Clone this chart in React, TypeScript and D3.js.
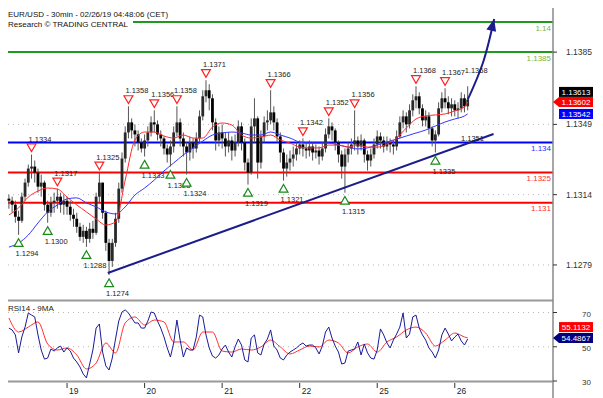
import React from "react";
import * as d3 from "d3";

// hourly bars, index 0 = Feb 18 06:00
const firstOpen = 1.1312;
const closes = [
  1.1311, 1.1309, 1.1303, 1.1301, 1.1313, 1.132, 1.1327, 1.1328, 1.1325, 1.1318,
  1.132, 1.1309, 1.1305, 1.131, 1.1311, 1.1313, 1.1309, 1.1311, 1.1308, 1.1304,
  1.1302, 1.1298, 1.1293, 1.1296, 1.1292, 1.1297, 1.1295, 1.1313, 1.132, 1.1305,
  1.129, 1.1281, 1.129, 1.1302, 1.1317, 1.1332, 1.1345, 1.135, 1.1346, 1.1344,
  1.134, 1.1337, 1.1341, 1.1345, 1.135, 1.1349, 1.1344, 1.1342, 1.1337, 1.1334,
  1.1338, 1.1345, 1.135, 1.1342, 1.1338, 1.1335, 1.134, 1.1337, 1.1342, 1.1353,
  1.1363, 1.1366, 1.1362, 1.135, 1.1341, 1.1345, 1.1342, 1.1338, 1.1341, 1.1336,
  1.134, 1.1348, 1.134, 1.133, 1.1325, 1.1348, 1.1352, 1.133, 1.1343, 1.135,
  1.1351, 1.1355, 1.135, 1.1343, 1.1335, 1.1327, 1.133, 1.1332, 1.1334, 1.1337,
  1.1339, 1.1337, 1.1336, 1.1338, 1.1335, 1.1336, 1.1333, 1.1337, 1.1344, 1.1348,
  1.1346, 1.134, 1.1334, 1.1328, 1.1334, 1.1337, 1.1339, 1.1341, 1.1338, 1.1341,
  1.1334, 1.1331, 1.1334, 1.1339, 1.1343, 1.1341, 1.1338, 1.134, 1.1339, 1.1338,
  1.1343, 1.135, 1.1353, 1.1349, 1.1356, 1.1361, 1.1363, 1.1357, 1.1351, 1.1353,
  1.1347, 1.1341, 1.1344, 1.1357, 1.1362, 1.136, 1.1357, 1.1359, 1.1356, 1.1357,
  1.1362, 1.1358, 1.13613,
];
const highs = [
  1.1314, 1.1313, 1.1311, 1.1306, 1.1315, 1.1322, 1.1329, 1.1334, 1.1331, 1.1327,
  1.1324, 1.1321, 1.1311, 1.1313, 1.1315, 1.1317, 1.1315, 1.1314, 1.1313, 1.1311,
  1.1307, 1.1305, 1.13, 1.1299, 1.1298, 1.13, 1.1301, 1.1315, 1.1325, 1.132,
  1.1306, 1.1292, 1.1292, 1.1305, 1.132, 1.1335, 1.1348, 1.1358, 1.1352, 1.1349,
  1.1346, 1.1342, 1.1344, 1.1348, 1.1353, 1.1356, 1.1351, 1.1346, 1.1343, 1.1339,
  1.1341, 1.1348, 1.1358, 1.1352, 1.1345, 1.134, 1.1343, 1.1342, 1.1345, 1.1356,
  1.1366, 1.1371, 1.1369, 1.1364, 1.1352, 1.1348, 1.1349, 1.1345, 1.1345, 1.1343,
  1.1344, 1.1351, 1.135, 1.1342, 1.1332, 1.1352, 1.1362, 1.1353, 1.1346, 1.1353,
  1.1356, 1.1366, 1.1358, 1.1352, 1.1345, 1.1337, 1.1334, 1.1336, 1.1338, 1.134,
  1.1341, 1.1342, 1.134, 1.1341, 1.134, 1.1339, 1.1338, 1.134, 1.1347, 1.1352,
  1.135, 1.1347, 1.1341, 1.1336, 1.1337, 1.134, 1.1342, 1.1356, 1.1343, 1.1344,
  1.1342, 1.1336, 1.1337, 1.1342, 1.1346, 1.1345, 1.1343, 1.1343, 1.1342, 1.1341,
  1.1346, 1.1353, 1.1356, 1.1355, 1.1359, 1.1364, 1.1368, 1.1365, 1.1359, 1.1356,
  1.1355, 1.1348, 1.1346, 1.136, 1.1365, 1.1367, 1.1363, 1.1362, 1.1361, 1.136,
  1.1365, 1.1364, 1.1368,
];
const lows = [
  1.1307, 1.1305, 1.13, 1.1294, 1.13, 1.1311, 1.1318, 1.1322, 1.132, 1.1315,
  1.1313, 1.1306, 1.13, 1.1303, 1.1305, 1.1307, 1.1305, 1.1304, 1.1304, 1.1301,
  1.1298, 1.1295, 1.1291, 1.129, 1.1288, 1.129, 1.1292, 1.1294, 1.131, 1.1302,
  1.1286, 1.1274, 1.1278, 1.1288, 1.13, 1.1315, 1.133, 1.1342, 1.1342, 1.1338,
  1.1336, 1.1335, 1.1333, 1.1338, 1.1343, 1.1345, 1.1341, 1.1338, 1.1334, 1.133,
  1.1328, 1.1335, 1.1343, 1.1338, 1.1333, 1.1324, 1.1331, 1.1332, 1.1335, 1.134,
  1.1351, 1.136, 1.1356, 1.1346, 1.1336, 1.1338, 1.1337, 1.1333, 1.1335, 1.1331,
  1.1333, 1.1338, 1.1336, 1.1326, 1.1319, 1.1324, 1.134, 1.1322, 1.1327, 1.134,
  1.1346, 1.1349, 1.1346, 1.134, 1.133, 1.1321, 1.1323, 1.1326, 1.1328, 1.1331,
  1.1334, 1.1333, 1.1332, 1.1333, 1.1331, 1.1332, 1.1329, 1.1331, 1.1335, 1.1342,
  1.1341, 1.1336, 1.133, 1.1322, 1.1315, 1.133, 1.1334, 1.1336, 1.1334, 1.1336,
  1.133, 1.1326, 1.1328, 1.1332, 1.1337, 1.1337, 1.1335, 1.1336, 1.1335, 1.1334,
  1.1336, 1.1342, 1.1347, 1.1345, 1.1347, 1.1353, 1.1357, 1.1354, 1.1348, 1.1348,
  1.1344, 1.1338, 1.1335, 1.1343, 1.1355, 1.1357, 1.1354, 1.1353, 1.1353, 1.1352,
  1.1355, 1.1355, 1.1356,
];

// moving averages, read every 3 bars
const maIdx = [
  0, 3, 6, 9, 12, 15, 18, 21, 24, 27, 30, 33, 36, 39, 42, 45, 48, 51, 54, 57,
  60, 63, 66, 69, 72, 75, 78, 81, 84, 87, 90, 93, 96, 99, 102, 105, 108, 111,
  114, 117, 120, 123, 126, 129, 132, 135, 138, 141, 142,
];
const maRed = [
  1.13039, 1.13074, 1.13128, 1.13158, 1.13173, 1.13168, 1.13128, 1.13089, 1.13054, 1.13019,
  1.12989, 1.13004, 1.13213, 1.13412, 1.13452, 1.13452, 1.13432, 1.13422, 1.13437, 1.13422,
  1.13422, 1.13477, 1.13497, 1.13487, 1.13437, 1.13422, 1.13427, 1.13437, 1.13412, 1.13397,
  1.13377, 1.13373, 1.13373, 1.13387, 1.13387, 1.13377, 1.13387, 1.13377, 1.13377, 1.13392,
  1.13422, 1.13472, 1.13517, 1.13532, 1.13537, 1.13542, 1.13557, 1.13577, 1.13602,
];
const maBlue = [
  1.12879, 1.12899, 1.12939, 1.12999, 1.13054, 1.13089, 1.13119, 1.13124, 1.13099, 1.13079,
  1.13054, 1.13044, 1.13079, 1.13138, 1.13173, 1.13213, 1.13258, 1.13298, 1.13338, 1.13373,
  1.13407, 1.13437, 1.13447, 1.13452, 1.13447, 1.13437, 1.13437, 1.13452, 1.13437, 1.13422,
  1.13402, 1.13397, 1.13397, 1.13397, 1.13387, 1.13377, 1.13368, 1.13373, 1.13387, 1.13402,
  1.13417, 1.13432, 1.13447, 1.13462, 1.13482, 1.13502, 1.13517, 1.13532, 1.13542,
];

const rsi = [
  60.9, 59.8, 56.9, 46.4, 55.7, 61.5, 69.7, 68.5, 67.4, 56.9,
  48.1, 42.8, 43.4, 48.7, 47.5, 49.3, 50.4, 46.9, 49.3, 47.5,
  43.4, 41.1, 38.2, 34.1, 31.8, 39.9, 48.1, 60.9, 63.3, 46.9,
  38.8, 36.4, 43.4, 54.5, 65.0, 70.3, 71.5, 69.7, 66.8, 63.9,
  63.9, 60.9, 60.9, 65.0, 70.3, 69.7, 65.0, 60.9, 55.7, 49.3,
  44.0, 52.2, 65.6, 53.9, 44.0, 49.3, 48.1, 48.1, 55.7, 68.5,
  67.4, 56.9, 49.3, 44.6, 43.4, 45.2, 48.7, 51.0, 46.9, 44.0,
  49.9, 54.5, 51.0, 42.3, 41.1, 55.1, 56.9, 46.4, 45.2, 51.6,
  54.5, 59.8, 50.4, 48.1, 43.4, 42.3, 45.2, 46.9, 48.1, 49.3,
  51.0, 52.2, 50.4, 51.0, 51.0, 49.3, 45.8, 50.4, 58.6, 61.5,
  55.1, 50.4, 46.9, 39.9, 40.5, 47.5, 48.1, 48.7, 52.8, 45.2,
  51.6, 46.4, 43.4, 42.8, 48.1, 60.4, 56.9, 52.2, 49.3, 53.9,
  57.4, 61.5, 69.7, 55.1, 57.4, 67.4, 68.5, 60.9, 56.9, 53.9,
  49.3, 46.9, 43.4, 48.1, 56.9, 60.9, 57.4, 53.4, 55.7, 57.4,
  53.4, 51.0, 54.4867,
];
const rsiMa = [
  66.8, 58.6, 61.5, 64.5, 51.6, 48.1, 49.3, 45.2, 37.0, 40.5,
  52.2, 46.4, 63.9, 67.4, 62.7, 65.6, 64.5, 52.8, 52.8, 48.1,
  58.6, 58.6, 47.5, 46.9, 48.7, 48.1, 49.9, 53.9, 49.9, 45.8,
  48.1, 50.4, 49.9, 53.9, 52.2, 46.4, 49.9, 51.6, 46.9, 52.8,
  55.7, 59.8, 61.5, 58.0, 50.4, 53.9, 58.0, 55.7, 55.1132,
];

const peakIdx = [7, 15, 28, 37, 45, 52, 61, 81, 91, 99, 107, 126, 135, 142];
const peakVal = [1.1334, 1.1317, 1.1325, 1.1358, 1.1356, 1.1358, 1.1371, 1.1366, 1.1342, 1.1352, 1.1356, 1.1368, 1.1367, 1.1368];
const troughIdx = [3, 12, 24, 31, 42, 50, 55, 74, 85, 104, 132];
const troughVal = [1.1294, 1.13, 1.1288, 1.1274, 1.1333, 1.1328, 1.1324, 1.1319, 1.1321, 1.1315, 1.1335];

const levelVal = [1.14, 1.1385, 1.134, 1.1325, 1.131];
const levelLabel = ["1.14", "1.1385", "1.134", "1.1325", "1.131"];
const levelKind = ["target", "target", "pivot", "support", "support"];

const trendIdx = [30.6, 150];
const trendVal = [1.1275, 1.13442];
const trendLabel = "1.1351";
const arrowIdx = [142, 146.8, 150.2];
const arrowVal = [1.13613, 1.13801, 1.14015];

const priceTicks = [1.1385, 1.1349, 1.1314, 1.1279];
const rsiTicks = [70, 50, 30];
const dayIdx = [18, 42, 66, 90, 114, 138];
const dayLabels = ["19", "20", "21", "22", "25", "26"];

const lastPrice = 1.13613;
const lastRed = 1.13602;
const lastBlue = 1.13542;
const lastRsi = 54.4867;
const lastRsiMa = 55.1132;

const FONT = "'Liberation Sans', Arial, sans-serif";
const kindColor: Record<string, [string, string]> = {
  target: ["#1f9a1f", "#7cb342"],
  pivot: ["#0000ff", "#3030ff"],
  support: ["#ff0000", "#ff3030"],
};

const App = () => {
  const W = 603;
  const H = 398;
  const left = 8;
  const right = 553;

  const x = d3.scaleLinear().domain([0, 142]).range([8.9, 467.7]);
  const y = d3.scaleLinear().domain([1.131, 1.14]).range([202.7, 22]);
  const yR = d3.scaleLinear().domain([30, 70]).range([381, 312.5]);

  const maLine = d3
    .line<number>()
    .x((_, k) => x(maIdx[k]))
    .y((d) => y(d))
    .curve(d3.curveMonotoneX);
  const rsiLine = d3
    .line<number>()
    .x((_, i) => x(i))
    .y((d) => yR(d));
  const rsiMaLine = d3
    .line<number>()
    .x((_, k) => x(maIdx[k]))
    .y((d) => yR(d))
    .curve(d3.curveMonotoneX);
  const arrowLine = d3
    .line<number>()
    .x((_, k) => x(arrowIdx[k]))
    .y((d) => y(d))
    .curve(d3.curveNatural);

  const tri = d3.symbol(d3.symbolTriangle, 34)();

  // arrow head direction
  const n = arrowIdx.length;
  const tipX = x(arrowIdx[n - 1]);
  const tipY = y(arrowVal[n - 1]);
  const ang =
    (Math.atan2(tipY - y(arrowVal[n - 2]), tipX - x(arrowIdx[n - 2])) * 180) / Math.PI;

  const redY = y(lastRed);
  const blueY = y(lastBlue);
  const rsiY = yR(lastRsi);

  return (
    <svg
      width={W}
      height={H}
      style={{ position: "absolute", left: 0, top: 0, background: "#fff" }}
      fontFamily={FONT}
    >
      {/* grid */}
      {priceTicks.map((t) => (
        <line key={t} x1={left} x2={right} y1={y(t)} y2={y(t)} stroke="#b8b8b8" strokeDasharray="1 4" />
      ))}
      {[70, 50].map((t) => (
        <line key={t} x1={left} x2={right} y1={yR(t)} y2={yR(t)} stroke="#b8b8b8" strokeDasharray="1 4" />
      ))}

      {/* levels */}
      {levelVal.map((v, k) => (
        <g key={v}>
          <line x1={left} x2={right} y1={y(v)} y2={y(v)} stroke={kindColor[levelKind[k]][0]} strokeWidth={2} />
          <text x={551} y={y(v) + 8.5} fontSize={8} textAnchor="end" fill={kindColor[levelKind[k]][1]}>
            {levelLabel[k]}
          </text>
        </g>
      ))}

      {/* candles */}
      {closes.map((c, i) => {
        const o = i === 0 ? firstOpen : closes[i - 1];
        const hi = Math.max(highs[i], o, c);
        const lo = Math.min(lows[i], o, c);
        const top = y(Math.max(o, c));
        const h = Math.max(1.5, y(Math.min(o, c)) - top);
        return (
          <g key={i}>
            <line x1={x(i)} x2={x(i)} y1={y(hi)} y2={y(lo)} stroke="#555" />
            <rect x={x(i) - 1.4} y={top} width={2.8} height={h} fill={c >= o ? "#2a2a2a" : "#000"} />
          </g>
        );
      })}

      {/* moving averages */}
      <path d={maLine(maBlue) || ""} fill="none" stroke="#3535ff" strokeWidth={1} />
      <path d={maLine(maRed) || ""} fill="none" stroke="#ff2a2a" strokeWidth={1} />

      {/* trendline + arrow */}
      <line
        x1={x(trendIdx[0])}
        y1={y(trendVal[0])}
        x2={x(trendIdx[1])}
        y2={y(trendVal[1])}
        stroke="#1c1c8a"
        strokeWidth={2}
      />
      <text x={461} y={141} fontSize={7.5} fill="#222">
        {trendLabel}
      </text>
      <path d={arrowLine(arrowVal) || ""} fill="none" stroke="#1c1c8a" strokeWidth={2} />
      <path
        d="M0,0 L-12,-5 L-12,5 Z"
        fill="#1c1c8a"
        transform={`translate(${tipX},${tipY}) rotate(${ang})`}
      />

      {/* peaks and troughs */}
      {peakIdx.map((i, k) => (
        <g key={"p" + k}>
          {k < peakIdx.length - 1 && (
            <path
              d={tri || ""}
              transform={`translate(${x(i)},${y(peakVal[k]) - 8}) rotate(180)`}
              fill="#fff"
              stroke="#ff2020"
              strokeWidth={1.2}
            />
          )}
          <text x={x(i) - 3} y={y(peakVal[k]) - 13} fontSize={7.5} fill="#222">
            {peakVal[k].toFixed(4)}
          </text>
        </g>
      ))}
      {troughIdx.map((i, k) => (
        <g key={"t" + k}>
          <path
            d={tri || ""}
            transform={`translate(${x(i)},${y(troughVal[k]) + 9})`}
            fill="#fff"
            stroke="#1a8a1a"
            strokeWidth={1.2}
          />
          <text x={x(i) - 3} y={y(troughVal[k]) + 21} fontSize={7.5} fill="#222">
            {troughVal[k].toFixed(4)}
          </text>
        </g>
      ))}

      {/* title */}
      <rect x={left} y={8} width={125} height={20} fill="#fff" />
      <text x={left} y={17} fontSize={8} fill="#111">
        EUR/USD - 30min - 02/26/19 04:48:06 (CET)
      </text>
      <text x={left} y={26.5} fontSize={8} fill="#111">
        Research © TRADING CENTRAL
      </text>

      {/* RSI panel */}
      <line x1={left} x2={right} y1={300.5} y2={300.5} stroke="#999" strokeWidth={2} />
      <line x1={left} x2={right} y1={381.5} y2={381.5} stroke="#999" strokeWidth={2} />
      <text x={left} y={311} fontSize={8} fill="#222">
        RSI14 - 9MA
      </text>
      <path d={rsiMaLine(rsiMa) || ""} fill="none" stroke="#ff3030" strokeWidth={1} />
      <path d={rsiLine(rsi) || ""} fill="none" stroke="#1a1a9a" strokeWidth={1} />

      {/* days */}
      {dayIdx.map((i, k) => (
        <g key={i}>
          <line x1={x(i)} x2={x(i)} y1={383} y2={388} stroke="#333" />
          <text x={x(i) + 2} y={394} fontSize={8.5} fill="#222">
            {dayLabels[k]}
          </text>
        </g>
      ))}

      {/* right axis */}
      <line x1={right} x2={right} y1={8} y2={H} stroke="#888" strokeWidth={1.5} />
      {priceTicks.map((t) => (
        <g key={t}>
          <line x1={right} x2={right + 4} y1={y(t)} y2={y(t)} stroke="#333" />
          <text x={566} y={y(t) + 3} fontSize={8.5} fill="#333">
            {t.toFixed(4)}
          </text>
        </g>
      ))}
      {rsiTicks.map((t) => (
        <g key={t}>
          <line x1={right} x2={right + 4} y1={yR(t)} y2={yR(t)} stroke="#333" />
          <text x={591} y={yR(t) + 4} fontSize={8} fill="#333" textAnchor="end">
            {t}
          </text>
        </g>
      ))}

      {/* last value boxes */}
      <rect x={559} y={redY - 15} width={34} height={10} fill="#000" />
      <text x={576} y={redY - 7.3} fontSize={8} fill="#fff" textAnchor="middle">
        {lastPrice.toFixed(5)}
      </text>
      <path d={`M${right},${redY} L559,${redY - 5} L593,${redY - 5} L593,${redY + 5} L559,${redY + 5} Z`} fill="#ff0000" />
      <text x={576} y={redY + 2.8} fontSize={8} fill="#fff" textAnchor="middle">
        {lastRed.toFixed(5)}
      </text>
      <rect x={559} y={blueY - 5} width={34} height={10} fill="#0000ff" />
      <text x={576} y={blueY + 2.8} fontSize={8} fill="#fff" textAnchor="middle">
        {lastBlue.toFixed(5)}
      </text>

      <rect x={559} y={rsiY - 17} width={34} height={10} fill="#ff0000" />
      <text x={576} y={rsiY - 9.2} fontSize={8} fill="#fff" textAnchor="middle">
        {lastRsiMa.toFixed(4)}
      </text>
      <path d={`M${right},${rsiY - 1} L559,${rsiY - 6} L593,${rsiY - 6} L593,${rsiY + 4} L559,${rsiY + 4} Z`} fill="#000080" />
      <text x={576} y={rsiY + 1.8} fontSize={8} fill="#fff" textAnchor="middle">
        {lastRsi.toFixed(4)}
      </text>
    </svg>
  );
};

export default App;
